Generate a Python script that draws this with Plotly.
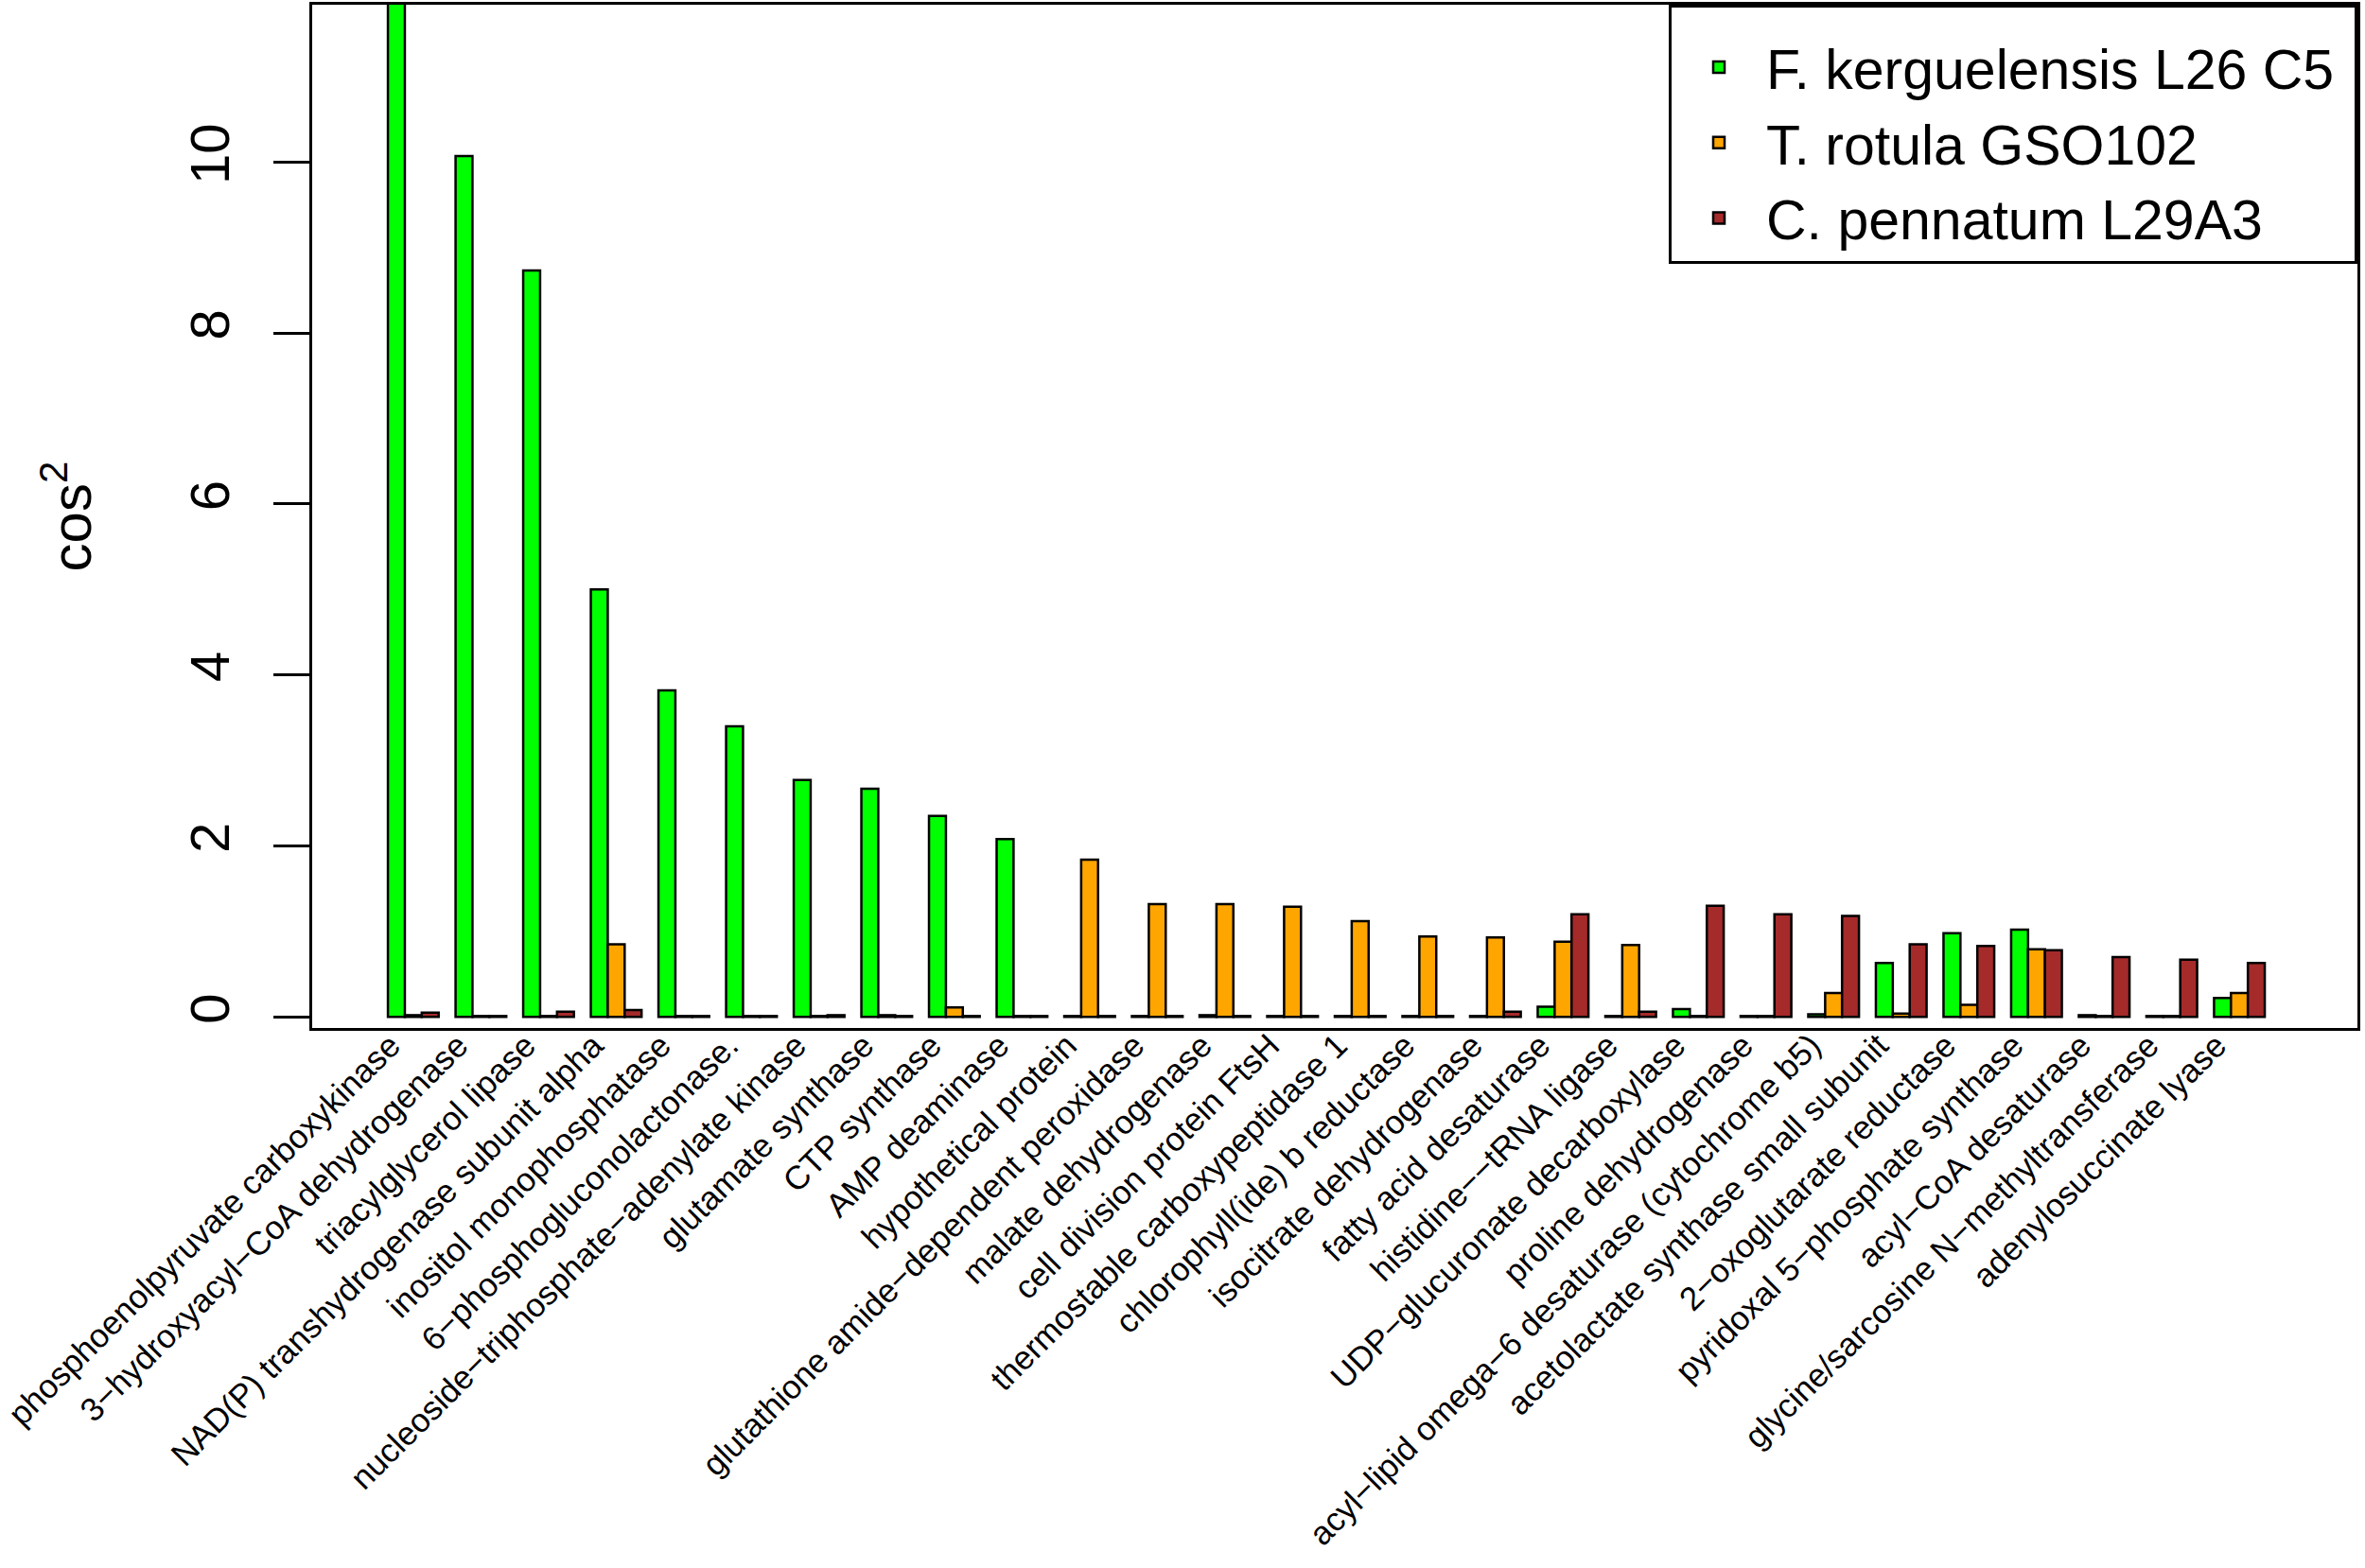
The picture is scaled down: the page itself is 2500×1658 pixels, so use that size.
import plotly.graph_objects as go

categories = [
    "phosphoenolpyruvate carboxykinase",
    "3−hydroxyacyl−CoA dehydrogenase",
    "triacylglycerol lipase",
    "NAD(P) transhydrogenase subunit alpha",
    "inositol monophosphatase",
    "6−phosphogluconolactonase.",
    "nucleoside−triphosphate−adenylate kinase",
    "glutamate synthase",
    "CTP synthase",
    "AMP deaminase",
    "hypothetical protein",
    "glutathione amide−dependent peroxidase",
    "malate dehydrogenase",
    "cell division protein FtsH",
    "thermostable carboxypeptidase 1",
    "chlorophyll(ide) b reductase",
    "isocitrate dehydrogenase",
    "fatty acid desaturase",
    "histidine−−tRNA ligase",
    "UDP−glucuronate decarboxylase",
    "proline dehydrogenase",
    "acyl−lipid omega−6 desaturase (cytochrome b5)",
    "acetolactate synthase small subunit",
    "2−oxoglutarate reductase",
    "pyridoxal 5−phosphate synthase",
    "acyl−CoA desaturase",
    "glycine/sarcosine N−methyltransferase",
    "adenylosuccinate lyase",
]

series_names = ["F. kerguelensis L26 C5", "T. rotula GSO102", "C. pennatum L29A3"]

f_kerguelensis = [12.3, 10.07, 8.73, 5.00, 3.82, 3.40, 2.77, 2.67, 2.35, 2.08,
                  0.01, 0.01, 0.02, 0.01, 0.01, 0.01, 0.01, 0.12, 0.01, 0.09,
                  0.01, 0.03, 0.63, 0.98, 1.02, 0.02, 0.01, 0.22]
t_rotula = [0.02, 0.01, 0.01, 0.85, 0.01, 0.01, 0.01, 0.02, 0.11, 0.01,
            1.84, 1.32, 1.32, 1.29, 1.12, 0.94, 0.93, 0.88, 0.84, 0.01,
            0.01, 0.28, 0.04, 0.14, 0.79, 0.01, 0.01, 0.28]
c_pennatum = [0.05, 0.01, 0.06, 0.08, 0.01, 0.01, 0.02, 0.01, 0.01, 0.01,
              0.01, 0.01, 0.01, 0.01, 0.01, 0.01, 0.06, 1.20, 0.06, 1.30,
              1.20, 1.18, 0.85, 0.83, 0.78, 0.70, 0.67, 0.63]

y_ticks = [0, 2, 4, 6, 8, 10]

colors = ["#00FF00", "#FFA500", "#A52A2A"]
FONT = "Liberation Sans, Arial, Helvetica, sans-serif"

fig = go.Figure()
for name, vals, col in zip(series_names, [f_kerguelensis, t_rotula, c_pennatum], colors):
    fig.add_trace(go.Bar(
        x=categories, y=vals, name=name + "\u00a0",
        marker=dict(color=col, line=dict(color="black", width=2.5)),
    ))

fig.update_layout(
    width=2500, height=1658,
    margin=dict(l=330, r=8, t=5, b=571, autoexpand=False),
    paper_bgcolor="white", plot_bgcolor="white",
    barmode="group", bargap=0.25, bargroupgap=0.0,
    font=dict(family=FONT, color="black"),
    showlegend=True,
    legend=dict(
        x=1, y=1, xanchor="right", yanchor="top",
        font=dict(size=59, family=FONT, color="black"),
        bordercolor="black", borderwidth=3, bgcolor="white",
        itemwidth=90,
        title=dict(text=" ", font=dict(size=14)),
    ),
    xaxis=dict(
        type="category",
        range=[-1.495, 28.745],
        automargin=False,
        showline=True, mirror=True, linecolor="black", linewidth=3,
        ticks="", tickangle=-45,
        ticklabelshift=-24, ticklabelstandoff=-19,
        tickfont=dict(size=35, family=FONT, color="black"),
        showgrid=False, zeroline=False,
    ),
    yaxis=dict(
        range=[-0.13, 11.84],
        automargin=False,
        tickvals=y_ticks, ticktext=[str(v) for v in y_ticks],
        tickangle=-90,
        ticks="outside", ticklen=38, tickwidth=3, tickcolor="black",
        ticklabelstandoff=24,
        tickfont=dict(size=58, family=FONT, color="black"),
        showline=True, mirror=True, linecolor="black", linewidth=3,
        showgrid=False, zeroline=False,
        title=dict(text="cos<sup>2</sup>", font=dict(size=60, family=FONT, color="black"), standoff=73),
    ),
)

fig.write_html("out.html", post_script="document.body.style.margin='0';",
               config={"displayModeBar": False})
